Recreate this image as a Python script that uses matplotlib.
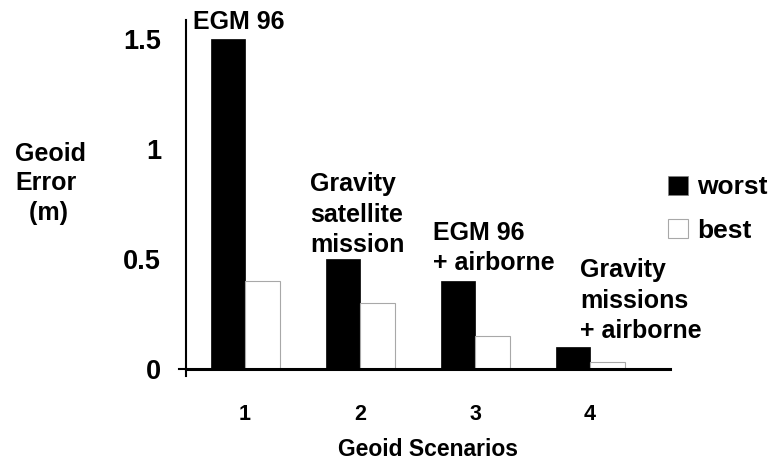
import numpy as np
import matplotlib
matplotlib.use('Agg')
import matplotlib.pyplot as plt
from matplotlib.patches import Patch

plt.rcParams['font.family'] = ['Liberation Sans', 'DejaVu Sans']
plt.rcParams['font.weight'] = 'bold'

scenarios = [1, 2, 3, 4]
worst = [1.5, 0.5, 0.4, 0.1]
best = [0.4, 0.3, 0.15, 0.03]
notes = ['EGM 96', 'Gravity\nsatellite\nmission', 'EGM 96\n+ airborne', 'Gravity\nmissions\n+ airborne']
yticks = [0, 0.5, 1, 1.5]
yticklabels = ['0', '0.5', '1', '1.5']

# where each note starts (x in data units) and how far above its bar (points)
note_x = [0.55, 1.565, 2.635, 3.913]
note_gap = [3.6, 1.5, 4.3, 3.0]

fs = 18
W, H = 774, 474
fig = plt.figure(figsize=(W / 100, H / 100), dpi=100)
ax = fig.add_axes([186 / W, 1 - 369 / H, (670 - 186) / W, (369 - 20) / H])

x = np.array(scenarios, dtype=float)
bw = 0.3
ax.bar(x - bw / 2, worst, width=bw, color='black', edgecolor='black', linewidth=0.5)
ax.bar(x + bw / 2, best, width=bw, color='white', edgecolor='#a8a8a8', linewidth=0.8)

ax.set_xlim(1 - 59 / 115, 4 + 80 / 115)
ax.set_ylim(0, 1.5 + 19 / 220)

for s in ['top', 'right']:
    ax.spines[s].set_visible(False)
ax.spines['left'].set_linewidth(1.5)
ax.spines['bottom'].set_linewidth(2.2)

ax.set_yticks(yticks)
ax.set_yticklabels(yticklabels, fontsize=19.5, fontweight='bold')
ax.set_xticks(scenarios)
ax.set_xticklabels([str(s) for s in scenarios], fontsize=15.5, fontweight='bold')
ax.tick_params(axis='y', length=7, width=0, pad=11)
ax.tick_params(axis='x', length=0, pad=25)
# little tick marks where the axes cross
ax.plot([-0.0145, 0], [0, 0], transform=ax.transAxes, color='black', lw=1.5, clip_on=False)
ax.plot([0, 0], [-0.02, 0], transform=ax.transAxes, color='black', lw=1.5, clip_on=False)

for i in range(len(notes)):
    ax.annotate(notes[i], (note_x[i], worst[i]), xytext=(0, note_gap[i]), textcoords='offset points',
                ha='left', va='bottom', fontsize=fs, fontweight='bold', linespacing=1.33,
                annotation_clip=False)

fig.text(15 / W, 1 - 220 / H, 'Geoid\nError\n  (m)', ha='left', va='baseline',
         fontsize=fs, fontweight='bold', linespacing=1.3)
fig.text(428 / W, 1 - 456 / H, 'Geoid Scenarios', ha='center', va='baseline',
         fontsize=16.5, fontweight='bold')

handles = [Patch(facecolor='black', edgecolor='#808080', linewidth=0.5, label='worst'),
           Patch(facecolor='white', edgecolor='#a8a8a8', linewidth=0.8, label='best')]
fig.legend(handles=handles, loc='center left', bbox_to_anchor=(668 / W, 1 - 209 / H),
           frameon=False, fontsize=19, handlelength=0.76, handleheight=0.76,
           handletextpad=0.34, labelspacing=0.72, borderpad=0, borderaxespad=0)

fig.savefig('out.png', dpi=100)
